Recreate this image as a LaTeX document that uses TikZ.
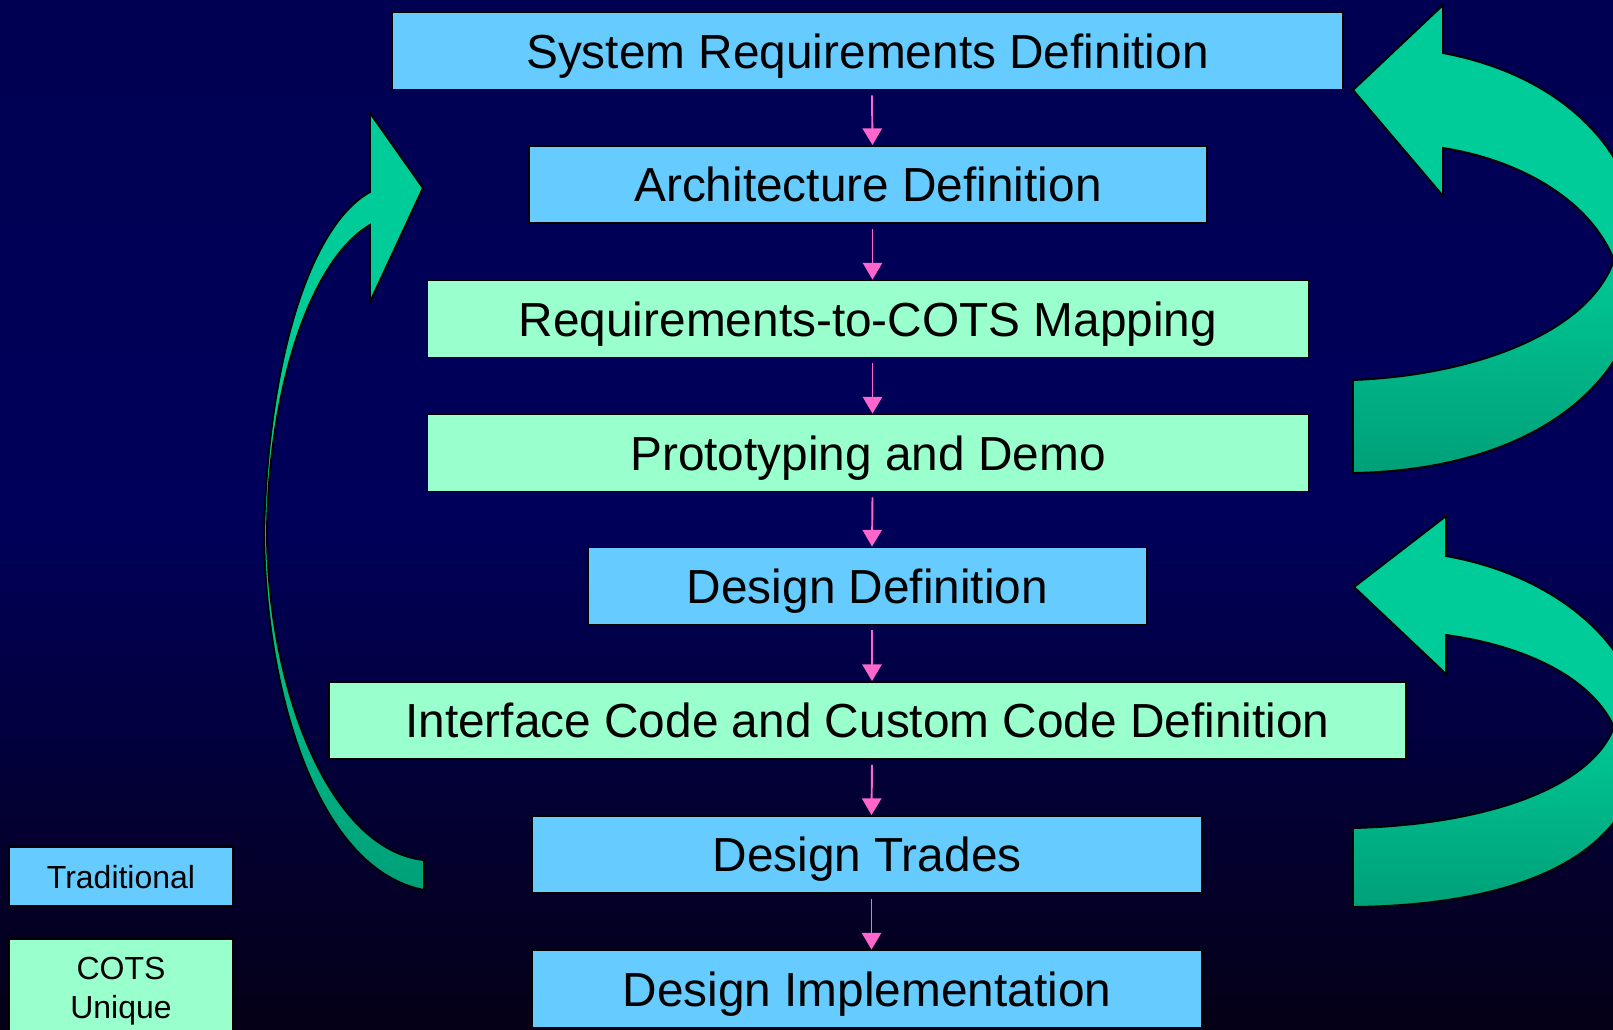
\documentclass[tikz,border=0pt]{standalone}
\usepackage{fontspec}
\setmainfont{Liberation Sans}
\usepackage{tikz}
\usetikzlibrary{arrows.meta}
\pgfdeclarelayer{background}
\pgfdeclarelayer{foreground}
\pgfsetlayers{background,main,foreground}
\definecolor{tradblue}{RGB}{102,204,255}
\definecolor{cotsgreen}{RGB}{153,255,204}
\definecolor{flowpink}{RGB}{255,102,204}
\definecolor{loopgreen}{RGB}{0,204,153}
\definecolor{loopdark}{RGB}{0,160,120}
\definecolor{bgtop}{RGB}{0,0,82}
\definecolor{bgmid}{RGB}{0,0,90}
\definecolor{bgbot}{RGB}{5,0,22}
\newlength\pxu
\setlength\pxu{0.02cm}
\tikzset{
  stage/.style={draw=black, line width=1.1pt, minimum height=77\pxu, inner sep=0pt, text depth=0pt, font=\fontsize{27.2pt}{32pt}\selectfont},
  trad/.style={stage, fill=tradblue},
  cots/.style={stage, fill=cotsgreen},
  key/.style={draw=black, line width=1.1pt, inner sep=0pt, text depth=0pt, minimum width=224\pxu, align=center, font=\fontsize{18.2pt}{22pt}\selectfont},
  flow/.style={draw=flowpink, line width=1.1pt, -{Triangle[width=11pt,length=9.5pt]}},
  loop/.style={draw=black, line width=1.1pt, line join=miter, top color=loopgreen, bottom color=loopdark, middle color=loopgreen},
}

\begin{document}
\begin{tikzpicture}[x=0.02cm, y=-0.02cm]
\useasboundingbox (0,0) rectangle (1613,1029);
\begin{pgfonlayer}{background}
\shade[top color=bgtop, bottom color=bgbot, middle color=bgmid] (0,0) rectangle (1613,1029);
\end{pgfonlayer}
\clip (0,0) rectangle (1613,1029);

\node[trad, minimum width=951\pxu] (sysreq) at (867.5,51) {System Requirements Definition};
\node[trad, minimum width=678\pxu] (arch) at (868,184.5) {Architecture Definition};
\node[cots, minimum width=881\pxu] (map) at (868,319) {Requirements-to-COTS Mapping};
\node[cots, minimum width=881\pxu] (proto) at (868,453) {Prototyping and Demo};
\node[trad, minimum width=559\pxu] (design) at (867.5,586) {Design Definition};
\node[cots, minimum width=1077\pxu] (iface) at (867.5,720.5) {Interface Code and Custom Code Definition};
\node[trad, minimum width=670\pxu] (trades) at (867,854.5) {Design Trades};
\node[trad, minimum width=670\pxu] (impl) at (867,989) {Design Implementation};

\foreach \a/\b in {sysreq/arch, arch/map, map/proto, proto/design, design/iface, iface/trades, trades/impl}
  \draw[flow] ([xshift=4.5\pxu, yshift=-5\pxu]\a.south) -- ([xshift=4.5\pxu]\b.north);

\node[key, fill=tradblue, minimum height=59\pxu] (keytrad) at (121,876.5) {Traditional};
\node[key, fill=cotsgreen, minimum height=97\pxu] (keycots) at (121,987.5) {COTS\\Unique};

% loop back from the COTS steps to the system requirements
\draw[loop] (1353,90) -- (1443,5) -- (1443,53)
  .. controls (1560,75) and (1643,150) .. (1643,262)
  .. controls (1643,385) and (1530,470) .. (1353,473)
  -- (1353,380)
  .. controls (1480,375) and (1590,330) .. (1614,260)
  .. controls (1590,200) and (1520,160) .. (1443,148)
  -- (1443,196) -- cycle;

% loop back from the trades to the design definition
\draw[loop] (1354,587) -- (1446,516) -- (1446,556)
  .. controls (1560,576) and (1643,650) .. (1643,735)
  .. controls (1643,850) and (1530,905) .. (1353,907)
  -- (1353,828)
  .. controls (1480,825) and (1590,790) .. (1614,727)
  .. controls (1590,675) and (1520,645) .. (1446,635)
  -- (1446,674) -- cycle;

% loop up from the trades to the architecture
\draw[loop] (423,188) -- (370,113) -- (370,192)
  .. controls (310,225) and (268,360) .. (264,534)
  .. controls (266,700) and (320,870) .. (424,890)
  -- (424,860)
  .. controls (330,850) and (268,690) .. (267,534)
  .. controls (268,390) and (310,260) .. (370,225)
  -- (370,302) -- cycle;
\end{tikzpicture}
\end{document}
